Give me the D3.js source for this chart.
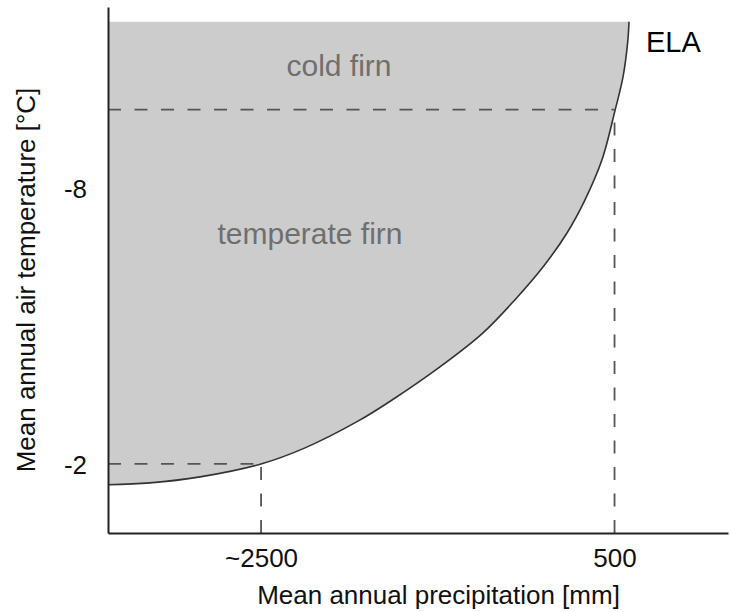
<!DOCTYPE html>
<html>
<head>
<meta charset="utf-8">
<script src="https://cdn.jsdelivr.net/npm/d3@7"></script>
<style>
  html, body { margin: 0; padding: 0; background: #fff; }
  svg { display: block; }
  text { font-family: "Liberation Sans", Arial, Helvetica, sans-serif; }
</style>
</head>
<body>
<script>
// ELA boundary: mean annual precipitation [mm] vs mean annual air temperature [°C]
const elaPrecip = [3366, 3128, 2845, 2500, 2251, 1952, 1759, 1488, 1244, 1063, 905, 769, 667, 571, 496, 452, 426, 418];
const elaTemp   = [-1.55, -1.59, -1.72, -2.0, -2.35, -2.93, -3.39, -4.11, -4.85, -5.57, -6.28, -7.02, -7.74, -8.61, -9.7, -10.41, -11.15, -11.61];

// reference guides (precipitation, temperature) where the dashed lines meet the ELA
const guidePrecip = [2500, 500];
const guideTemp   = [-2, -9.7];

// axis extents and ticks
const precipDomain = [3366, -142];
const tempDomain   = [-0.5, -11.93];
const xTickValues  = [2500, 500];
const xTickLabels  = ["~2500", "500"];
const yTickValues  = [-8, -2];
const yTickLabels  = ["-8", "-2"];

// zone labels
const zoneNames  = ["cold firn", "temperate firn"];
const zonePrecip = [2059, 2223];
const zoneTemp   = [-10.43, -6.78];
const elaLabel = "ELA";
const elaLabelPos = [322, -10.96];

const W = 730, H = 612;
const svg = d3.select("body").append("svg").attr("width", W).attr("height", H);

const x = d3.scaleLinear().domain(precipDomain).range([108, 728]);
const y = d3.scaleLinear().domain(tempDomain).range([533, 7]);

const curvePts = elaPrecip.map((p, i) => ({ p, t: elaTemp[i] }));
const smooth = d3.curveCatmullRom.alpha(0.5);

// shaded firn zone between the temperature axis and the ELA
svg.append("path")
  .datum(curvePts)
  .attr("fill", "#cccccc")
  .attr("d", d3.area()
    .curve(smooth)
    .y(d => y(d.t))
    .x0(x(precipDomain[0]))
    .x1(d => x(d.p)));

// ELA line
svg.append("path")
  .datum(curvePts)
  .attr("fill", "none")
  .attr("stroke", "#333")
  .attr("stroke-width", 1.6)
  .attr("d", d3.line()
    .curve(smooth)
    .x(d => x(d.p))
    .y(d => y(d.t)));

// dashed guides: horizontal from the temperature axis, vertical from the precipitation axis
const dash = "13,13.5";
guidePrecip.forEach((p, i) => {
  const t = guideTemp[i];
  svg.append("line")
    .attr("x1", x(precipDomain[0])).attr("x2", x(p))
    .attr("y1", y(t)).attr("y2", y(t))
    .attr("stroke", "#555").attr("stroke-width", 1.8)
    .attr("stroke-dasharray", dash);
  svg.append("line")
    .attr("x1", x(p)).attr("x2", x(p))
    .attr("y1", y(tempDomain[0])).attr("y2", y(t))
    .attr("stroke", "#555").attr("stroke-width", 1.8)
    .attr("stroke-dasharray", dash);
});

// axes
const xAxis = d3.axisBottom(x)
  .tickValues(xTickValues)
  .tickFormat((d, i) => xTickLabels[i])
  .tickSize(0).tickPadding(16);
const yAxis = d3.axisLeft(y)
  .tickValues(yTickValues)
  .tickFormat((d, i) => yTickLabels[i])
  .tickSize(0).tickPadding(21);

const gx = svg.append("g").attr("transform", `translate(0,${y(tempDomain[0])})`).call(xAxis);
const gy = svg.append("g").attr("transform", `translate(${x(precipDomain[0])},0)`).call(yAxis);

[gx, gy].forEach(g => {
  g.select(".domain").attr("stroke", "#222").attr("stroke-width", 2);
  g.selectAll(".tick text")
    .attr("font-size", 26)
    .attr("fill", "#111")
    .style("font-family", "'Liberation Sans', Arial, sans-serif");
});
gy.selectAll(".tick text").attr("dy", "0.37em");

// axis titles
svg.append("text")
  .attr("x", 438.5).attr("y", 604)
  .attr("text-anchor", "middle")
  .attr("font-size", 26).attr("fill", "#111")
  .text("Mean annual precipitation [mm]");

svg.append("text")
  .attr("transform", "translate(35,280) rotate(-90)")
  .attr("text-anchor", "middle")
  .attr("font-size", 26).attr("fill", "#111")
  .text("Mean annual air temperature [°C]");

// zone labels
svg.selectAll(".zone")
  .data(zoneNames)
  .join("text")
  .attr("class", "zone")
  .attr("x", (d, i) => x(zonePrecip[i]))
  .attr("y", (d, i) => y(zoneTemp[i]))
  .attr("text-anchor", "middle")
  .attr("font-size", 30)
  .attr("fill", "#6f6f6f")
  .text(d => d);

svg.append("text")
  .attr("x", x(elaLabelPos[0])).attr("y", y(elaLabelPos[1]))
  .attr("font-size", 29).attr("fill", "#000")
  .text(elaLabel);
</script>
</body>
</html>
